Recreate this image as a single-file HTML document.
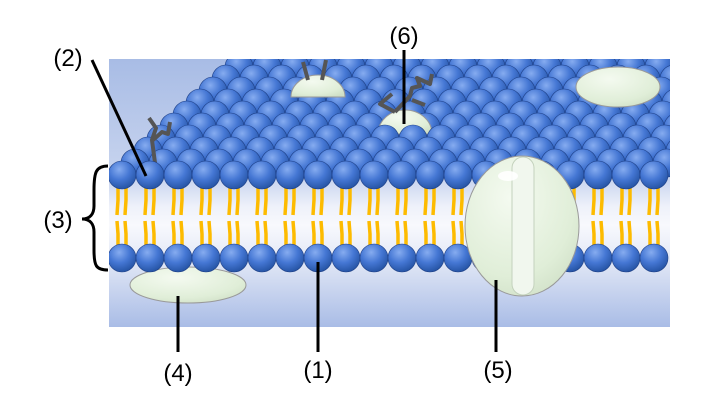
<!DOCTYPE html>
<html><head><style>
html,body{margin:0;padding:0;background:#fff;}
svg{display:block;}
text{font-family:"Liberation Sans",sans-serif;font-size:24px;fill:#000;}
</style></head><body>
<svg id="s" width="720" height="404" viewBox="0 0 720 404" xmlns="http://www.w3.org/2000/svg">
<defs>
<linearGradient id="bg" x1="0" y1="0" x2="0" y2="1">
<stop offset="0" stop-color="#a8bce5"/>
<stop offset="0.45" stop-color="#c9d5ef"/>
<stop offset="0.55" stop-color="#eef1fa"/>
<stop offset="0.62" stop-color="#f8f9fd"/>
<stop offset="0.75" stop-color="#e2e8f6"/>
<stop offset="1" stop-color="#a9bce6"/>
</linearGradient>
<radialGradient id="ball" cx="0.4" cy="0.3" r="0.75">
<stop offset="0" stop-color="#86acf0"/>
<stop offset="0.5" stop-color="#4577d4"/>
<stop offset="1" stop-color="#22509f"/>
</radialGradient>
<radialGradient id="prot" cx="0.4" cy="0.3" r="0.8">
<stop offset="0" stop-color="#f4faf0"/>
<stop offset="0.7" stop-color="#e0eed8"/>
<stop offset="1" stop-color="#cfdfc6"/>
</radialGradient>
<clipPath id="cp"><rect x="109" y="59" width="561" height="268"/></clipPath>
</defs>
<rect x="109" y="59" width="561" height="268" fill="url(#bg)"/>
<g clip-path="url(#cp)">
<g id="top"></g>
<path d="M291,97 A27,22 0 0 1 345,97 Z" fill="url(#prot)" stroke="#999" stroke-width="1"/>
<path d="M378,134 A27,24 0 0 1 432,134 Z" fill="url(#prot)" stroke="#999" stroke-width="1"/>
<g id="topfront"></g>
<ellipse cx="618" cy="87" rx="42" ry="20" fill="url(#prot)" stroke="#999"/>
<g fill="none" stroke="#555" stroke-width="4" stroke-linejoin="round">
<path d="M155,163 L152,140 L156,128 L149,118"/><path d="M153,140 L162,132 L168,134 L170,122"/>
<path d="M308,80 L303,62"/><path d="M322,80 L326,60"/>
<path d="M395,112 L380,104 L392,94"/><path d="M395,112 L410,96 L412,88 L420,86 L417,78 L430,84 L432,74"/><path d="M412,100 L425,105"/>
</g>
<g id="tails" fill="none" stroke="#fdbb00" stroke-width="3.5"></g>
<ellipse cx="188" cy="285" rx="58" ry="18" fill="url(#prot)" stroke="#999"/>
<g id="bot"></g>
<g id="front"></g>
<ellipse cx="522" cy="226" rx="57" ry="70" fill="url(#prot)" stroke="#999"/>
<rect x="512" y="157" width="22" height="138" rx="11" fill="#f1f7ee" stroke="#c4d2bd"/>
<ellipse cx="508" cy="176" rx="10" ry="5" fill="#fff" opacity="0.9"/>
</g>
<g stroke="#000" stroke-width="3" fill="none">
<line x1="92" y1="60" x2="146" y2="176"/>
<line x1="404" y1="50" x2="404" y2="124"/>
<line x1="318" y1="262" x2="318" y2="352"/>
<line x1="178" y1="296" x2="178" y2="352"/>
<line x1="496" y1="280" x2="496" y2="352"/>
<path d="M108,166 C96,166 94,172 94,190 L94,206 C94,214 90,219 82,219 C90,219 94,224 94,232 L94,250 C94,266 96,270 108,270"/>
</g>
<text x="68" y="66" text-anchor="middle">(2)</text>
<text x="404" y="44" text-anchor="middle">(6)</text>
<text x="58" y="228" text-anchor="middle">(3)</text>
<text x="178" y="381" text-anchor="middle">(4)</text>
<text x="318" y="378" text-anchor="middle">(1)</text>
<text x="498" y="378" text-anchor="middle">(5)</text>
<script>
var NS="http://www.w3.org/2000/svg";
function c(g,x,y,r){var e=document.createElementNS(NS,"circle");e.setAttribute("cx",x);e.setAttribute("cy",y);e.setAttribute("r",r);e.setAttribute("fill","url(#ball)");e.setAttribute("stroke","#1d3f86");e.setAttribute("stroke-width","0.6");document.getElementById(g).appendChild(e);}
for(var i=10;i>=1;i--){var y=175-12*i;var x0=122+13*i;var g=(i<=3)?"topfront":"top";for(var x=x0;x<690;x+=28)c(g,x,y,14);}
for(var k=0;k<20;k++){var x=122+28*k;c("front",x,175,14);c("bot",x,258,14);
var t=document.getElementById("tails");
[-4,4].forEach(function(d){var p=document.createElementNS(NS,"path");var xx=x+d;
p.setAttribute("d","M"+xx+",186 L"+xx+",200 L"+(xx-1)+",215 M"+(xx-1)+",221 L"+xx+",234 L"+xx+",248");t.appendChild(p);});}
</script>
</svg>
</body></html>
